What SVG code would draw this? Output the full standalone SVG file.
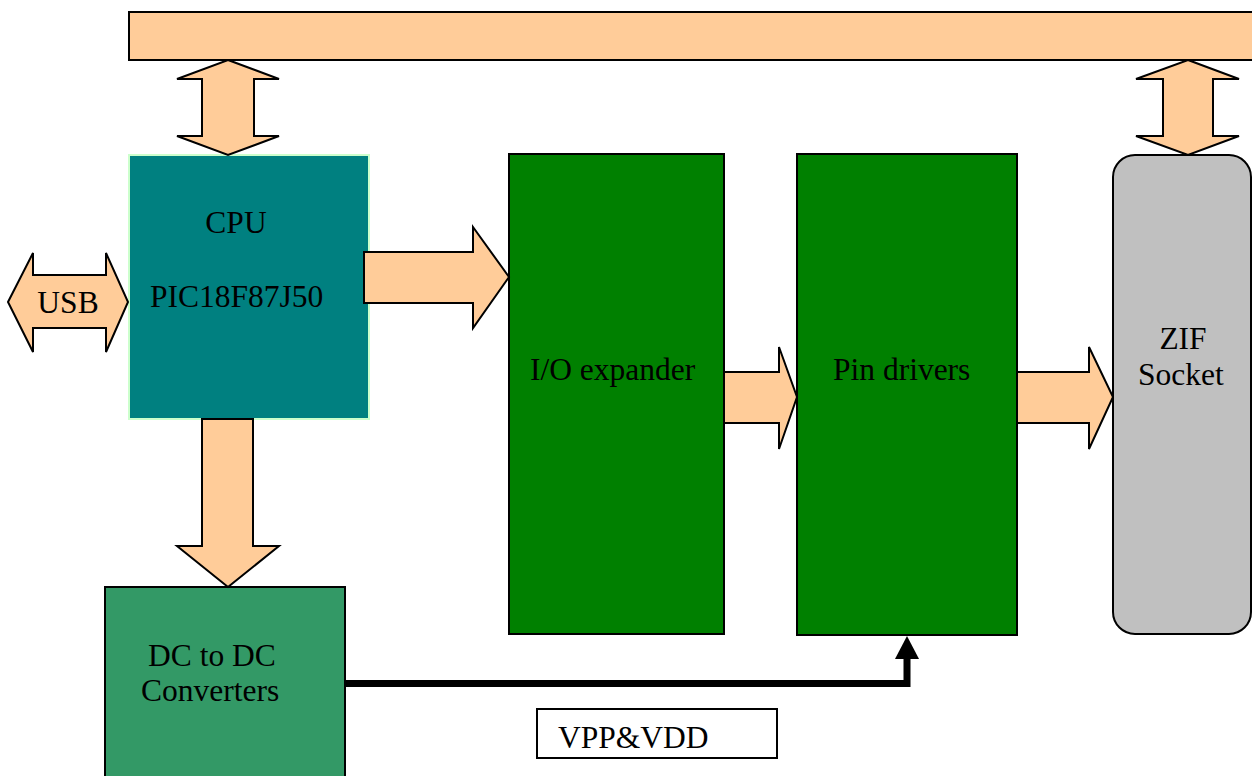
<svg xmlns="http://www.w3.org/2000/svg" width="1252" height="776" viewBox="0 0 1252 776">
<style>
.arrow{fill:#FFCC99;stroke:#000;stroke-width:2;stroke-linejoin:miter}
.lbl{font-family:"Liberation Serif","Times New Roman",serif;font-size:31.5px;fill:#000}
.box{stroke:#000;stroke-width:2}
</style>
<rect width="1252" height="776" fill="#fff"/>
<g id="bus">
<rect x="129" y="12" width="1140" height="48" class="arrow"/>
</g>
<g id="cpu">
<rect x="129" y="155" width="240" height="264" fill="#008080" stroke="#CCFFCC" stroke-width="2"/>
<text class="lbl" x="236" y="233" text-anchor="middle">CPU</text>
<text class="lbl" x="150" y="307">PIC18F87J50</text>
</g>
<g id="io-expander">
<rect x="509" y="154" width="215" height="480" fill="#008000" class="box"/>
<text class="lbl" x="530" y="380">I/O expander</text>
</g>
<g id="pin-drivers">
<rect x="797" y="154" width="220" height="481" fill="#008000" class="box"/>
<text class="lbl" x="833" y="380">Pin drivers</text>
</g>
<g id="zif">
<rect x="1113" y="155" width="138" height="479" rx="22" ry="22" fill="#C0C0C0" class="box"/>
<text class="lbl" x="1183" y="349" text-anchor="middle">ZIF</text>
<text class="lbl" x="1138" y="385">Socket</text>
</g>
<g id="dcdc">
<rect x="105" y="587" width="240" height="200" fill="#339966" class="box"/>
<text class="lbl" x="148" y="666">DC to DC</text>
<text class="lbl" x="141" y="701">Converters</text>
</g>
<g id="vpp-label">
<rect x="537" y="709" width="240" height="49" fill="#fff" class="box"/>
<text class="lbl" x="558" y="748">VPP&amp;VDD</text>
</g>
<g id="connectors">
<polygon class="arrow" points="228,60 279,79 254,79 254,136 279,136 228,155 177,136 202,136 202,79 177,79"/>
<polygon class="arrow" points="1188,60 1239,79 1213,79 1213,136 1239,136 1188,155 1136,136 1163,136 1163,79 1136,79"/>
<polygon class="arrow" points="8,302 33,253 33,275 106,275 106,253 128,302 106,352 106,328 33,328 33,352"/>
<g id="usb-label"><text class="lbl" x="68" y="313" text-anchor="middle">USB</text></g>
<polygon class="arrow" points="364,252 473,252 473,227 509,277 473,328 473,303 364,303"/>
<polygon class="arrow" points="724,372 779,372 779,347 797,397 779,449 779,423 724,423"/>
<polygon class="arrow" points="1017,372 1089,372 1089,347 1113,397 1089,449 1089,423 1017,423"/>
<polygon class="arrow" points="202,419 253,419 253,546 279,546 228,587 177,546 202,546"/>
<polyline points="345,683.5 907,683.5 907,656" fill="none" stroke="#000" stroke-width="7"/>
<polygon points="907,636 919,659 895,659" fill="#000"/>
</g>
</svg>
